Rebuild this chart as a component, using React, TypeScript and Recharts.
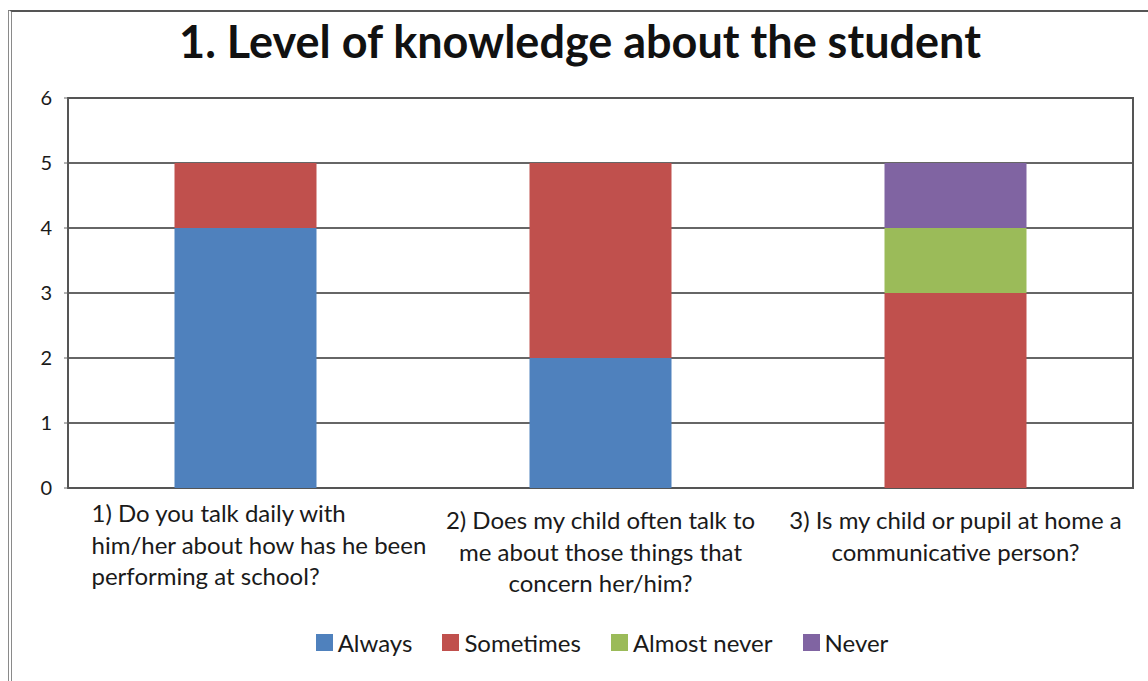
import { Bar, BarChart, CartesianGrid, ReferenceArea, XAxis, YAxis } from "recharts";

const questions = [
    "1) Do you talk daily with him/her about how has he been performing at school?",
    "2) Does my child often talk to me about those things that concern her/him?",
    "3) Is my child or pupil at home a communicative person?",
];
const questionLines = [
    ["1) Do you talk daily with", "him/her about how has he been", "performing at school?"],
    ["2) Does my child often talk to", "me about those things that", "concern her/him?"],
    ["3) Is my child or pupil at home a", "communicative person?"],
];
const always = [4, 2, 0];
const sometimes = [1, 3, 3];
const almostNever = [0, 0, 1];
const never = [0, 0, 1];
const yTicks = [0, 1, 2, 3, 4, 5, 6];

const series = [
    { key: "always", name: "Always", color: "#4F81BD" },
    { key: "sometimes", name: "Sometimes", color: "#C0504D" },
    { key: "almostNever", name: "Almost never", color: "#9BBB59" },
    { key: "never", name: "Never", color: "#8064A2" },
];

const data = questions.map((q, i) => ({
    question: q,
    always: always[i],
    sometimes: sometimes[i],
    almostNever: almostNever[i],
    never: never[i],
}));

const FONT = "Lato, 'Open Sans', sans-serif";

const CategoryTick = (props: any) => {
    const { x, y, payload } = props;
    const lines = questionLines[payload.index] || [];
    const first = payload.index === 0;
    const tx = first ? x - 154 : x;
    return (
        <text x={tx} y={y} textAnchor={first ? "start" : "middle"} fontSize={24} fill="#1a1a1a" fontFamily={FONT}>
            {lines.map((l, i) => (
                <tspan key={i} x={tx} dy={i === 0 ? (first ? 26 : 33) : 31.5}>
                    {l}
                </tspan>
            ))}
        </text>
    );
};

// legend drawn as plain html under the chart so it doesn't eat plot height
const ChartLegend = () => (
    <div
        style={{
            position: "absolute",
            top: 628,
            left: 28,
            width: 1148,
            display: "flex",
            justifyContent: "center",
            gap: 30,
            fontFamily: FONT,
            fontSize: 24,
            color: "#1a1a1a",
        }}
    >
        {series.map((s) => (
            <div key={s.key} style={{ display: "flex", alignItems: "center" }}>
                <span style={{ width: 17, height: 17, background: s.color, marginRight: 5, display: "inline-block" }} />
                <span>{s.name}</span>
            </div>
        ))}
    </div>
);

export default function App() {
    return (
        <div style={{ position: "absolute", left: 0, top: 0, width: 1148, height: 681, overflow: "hidden", background: "#fff" }}>
            <div
                style={{
                    position: "absolute",
                    left: 8,
                    top: 10,
                    width: 1160,
                    height: 690,
                    borderLeft: "4px double #8a8a8a",
                    borderTop: "2px solid #555",
                }}
            />
            <div
                style={{
                    position: "absolute",
                    left: 0,
                    top: 14,
                    width: 1160,
                    textAlign: "center",
                    fontFamily: FONT,
                    fontWeight: 700,
                    fontSize: 45,
                    color: "#111",
                }}
            >
                1. Level of knowledge about the student
            </div>
            <div style={{ position: "absolute", left: 0, top: 0 }}>
                <BarChart
                    width={1148}
                    height={681}
                    data={data}
                    margin={{ top: 98, right: 15, left: 18, bottom: 93 }}
                    barCategoryGap="30%"
                >
                    <CartesianGrid vertical={false} stroke="#666" strokeWidth={2} />
                    <XAxis
                        dataKey="question"
                        axisLine={false}
                        tickLine={false}
                        interval={0}
                        height={100}
                        tick={<CategoryTick />}
                    />
                    <YAxis
                        domain={[0, 6]}
                        ticks={yTicks}
                        width={50}
                        axisLine={false}
                        tickSize={4}
                        tickMargin={12}
                        tickLine={{ stroke: "#666" }}
                        tick={{ fontSize: 20, fill: "#1a1a1a", fontFamily: FONT }}
                    />
                    <ReferenceArea y1={0} y2={6} fill="none" stroke="#555" strokeWidth={2} ifOverflow="visible" />
                    {series.map((s) => (
                        <Bar key={s.key} dataKey={s.key} name={s.name} stackId="a" fill={s.color} isAnimationActive={false} />
                    ))}
                </BarChart>
            </div>
            <ChartLegend />
        </div>
    );
}
